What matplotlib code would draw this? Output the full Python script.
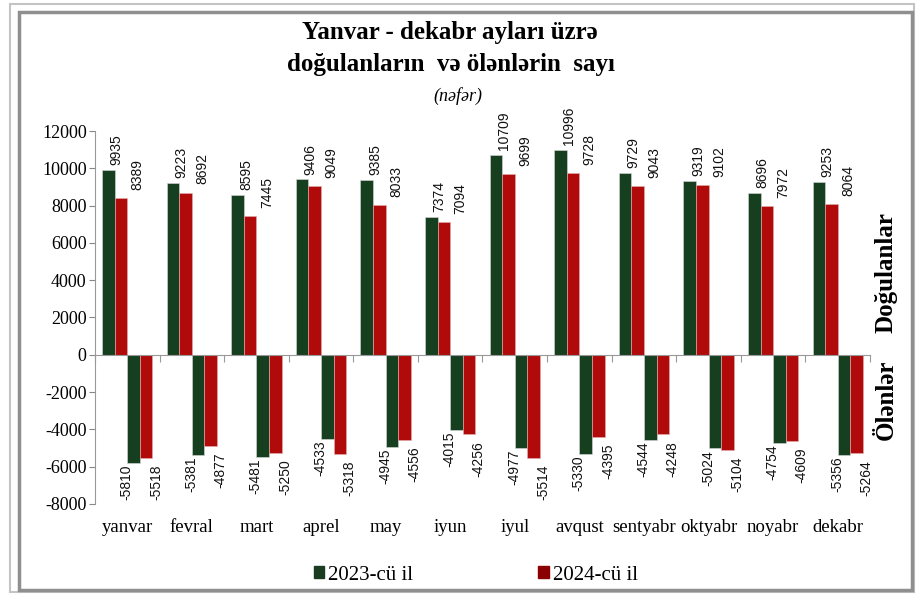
import numpy as np
import matplotlib.pyplot as plt
from matplotlib.patches import Rectangle, Patch
from matplotlib.transforms import blended_transform_factory

months = ["yanvar", "fevral", "mart", "aprel", "may", "iyun", "iyul",
          "avqust", "sentyabr", "oktyabr", "noyabr", "dekabr"]
births_2023 = [9935, 9223, 8595, 9406, 9385, 7374, 10709, 10996, 9729, 9319, 8696, 9253]
births_2024 = [8389, 8692, 7445, 9049, 8033, 7094, 9699, 9728, 9043, 9102, 7972, 8064]
deaths_2023 = [-5810, -5381, -5481, -4533, -4945, -4015, -4977, -5330, -4544, -5024, -4754, -5356]
deaths_2024 = [-5518, -4877, -5250, -5318, -4556, -4256, -5514, -4395, -4248, -5104, -4609, -5264]

green = "#163f20"
red = "#b00a0a"
serif = "Liberation Serif"
plt.rcParams["axes.unicode_minus"] = False

fig = plt.figure(figsize=(9.2, 5.96), dpi=100)
ax = fig.add_axes([95 / 920, 1 - 504 / 596, 775 / 920, 373 / 596])

x = np.arange(len(months))
w = 0.195
b1 = ax.bar(x - 1.5 * w, births_2023, w, color=green, edgecolor="#d8d8d8", linewidth=0.4)
b2 = ax.bar(x - 0.5 * w, births_2024, w, color=red, edgecolor="#e0b0b0", linewidth=0.4)
d1 = ax.bar(x + 0.5 * w, deaths_2023, w, color=green, edgecolor="#d8d8d8", linewidth=0.4)
d2 = ax.bar(x + 1.5 * w, deaths_2024, w, color=red, edgecolor="#e0b0b0", linewidth=0.4)

def label(bars, vals, dx, dy, va):
    for r, v in zip(bars, vals):
        ax.annotate(str(v), (r.get_x() + r.get_width() / 2, v), xytext=(dx, dy),
                    textcoords="offset points", rotation=90, ha="center", va=va,
                    fontsize=10, family="Liberation Sans", color="#111111")

label(b1, births_2023, 6, 3.5, "bottom")
label(b2, births_2024, 12, 6, "bottom")
label(d1, deaths_2023, -5, -1, "top")
label(d2, deaths_2024, 7, -5, "top")

ax.set_xlim(-0.5, len(months) - 0.5)
ax.set_ylim(-8000, 12000)
ax.set_yticks(np.arange(-8000, 12001, 2000))
ax.tick_params(axis="y", labelsize=13, length=4, color="#888888", pad=2)
for t in ax.get_yticklabels():
    t.set_family(serif)

ax.spines["top"].set_visible(False)
ax.spines["right"].set_visible(False)
ax.spines["bottom"].set_position(("data", 0))
ax.spines["bottom"].set_color("#999999")
ax.spines["left"].set_color("#999999")
ax.set_xticks(np.arange(-0.5, len(months), 1))
ax.set_xticklabels([])
ax.tick_params(axis="x", length=5, color="#999999")

tr = blended_transform_factory(ax.transData, ax.transAxes)
for i, m in enumerate(months):
    ax.text(i, -0.063, m, transform=tr, ha="center", va="center",
            fontsize=13.5, family=serif)

fig.text(450 / 920, 1 - 33 / 596, "Yanvar - dekabr ayları üzrə", ha="center", va="center",
         fontsize=18, fontweight="bold", family=serif)
fig.text(451 / 920, 1 - 64 / 596, "doğulanların  və ölənlərin  sayı", ha="center", va="center",
         fontsize=18, fontweight="bold", family=serif)
fig.text(458 / 920, 1 - 96 / 596, "(nəfər)", ha="center", va="center",
         fontsize=13, style="italic", family=serif)

fig.text(886 / 920, 1 - 273 / 596, "Doğulanlar", rotation=90, ha="center", va="center",
         fontsize=18, fontweight="bold", family=serif)
fig.text(886 / 920, 1 - 400 / 596, "Ölənlər", rotation=90, ha="center", va="center",
         fontsize=18, fontweight="bold", family=serif)

handles = [Patch(color="#1a3d22"), Patch(color="#8b0000")]
fig.legend(handles, ["2023-cü il", "2024-cü il"], loc="center", ncol=2,
           bbox_to_anchor=(0.517, 1 - 575 / 596), frameon=False,
           prop={"family": serif, "size": 15}, handlelength=0.5, handleheight=0.5,
           handletextpad=0.2, columnspacing=6.0)

# frame around the chart
fig.patches.append(Rectangle((10 / 920, 4 / 596), 904 / 920, 588 / 596,
                             transform=fig.transFigure, fill=False,
                             edgecolor="#c4c4c4", linewidth=1.5))
fig.patches.append(Rectangle((19 / 920, 6 / 596), 893 / 920, 578 / 596,
                             transform=fig.transFigure, fill=False,
                             edgecolor="#8f8f8f", linewidth=2.5))

fig.savefig("out.png", dpi=100)
